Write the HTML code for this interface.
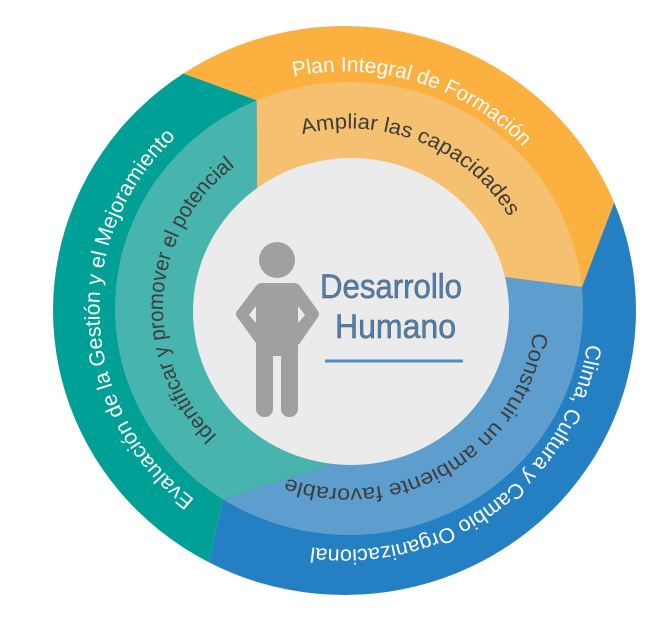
<!DOCTYPE html>
<html><head><meta charset="utf-8"><style>
html,body{margin:0;padding:0;background:#fff;width:653px;height:619px;overflow:hidden;}
svg{display:block;}
</style></head><body>
<svg width="653" height="619" viewBox="0 0 653 619" xmlns="http://www.w3.org/2000/svg">
<defs>
<clipPath id="co"><ellipse cx="344.5" cy="310.5" rx="291.5" ry="284.5"/></clipPath>
<clipPath id="ci"><ellipse cx="349" cy="308.5" rx="234" ry="226.5"/></clipPath>
</defs>
<g clip-path="url(#co)">
<polygon fill="#FBB040" points="256,100 102,44 102,-20 699,-20 582,287 351,311"/>
<polygon fill="#247FC3" points="582,287 699,-20 720,-20 720,700 178,700 223,499 351,311"/>
<polygon fill="#00A096" points="223,499 178,700 -20,700 -20,-20 102,-20 102,44 256,100 351,311"/>
</g>
<g clip-path="url(#ci)">
<polygon fill="#F5C070" points="257,188 256,-20 700,-20 700,302 505,277 351,311"/>
<polygon fill="#5E9ECE" points="505,277 700,302 700,700 -20,700 -20,576 330,465 351,311"/>
<polygon fill="#47B5AE" points="330,465 -20,576 -20,-20 256,-20 257,188 351,311"/>
</g>
<ellipse cx="351" cy="311.5" rx="158" ry="153.5" fill="#EBEBEB"/>

<g transform="translate(344.5,310.5) scale(1.025,1)" font-family="Liberation Sans, sans-serif" font-size="21" fill="#fff">
<path id="p1" d="M -49.7 -233.8 A 239 239 0 0 1 175.6 -162.1" fill="none"/>
<path id="p2" d="M -146.1 189.1 A 239 239 0 0 1 -162.4 -175.4" fill="none"/>
<path id="p3" d="M 236.6 33.7 A 239 239 0 0 1 -35.3 236.4" fill="none"/>
<text><textPath href="#p1" textLength="245" lengthAdjust="spacingAndGlyphs">Plan Integral de Formación</textPath></text>
<text><textPath href="#p2" textLength="412" lengthAdjust="spacingAndGlyphs">Evaluación de la Gestión y el Mejoramiento</textPath></text>
<text><textPath href="#p3" textLength="374" lengthAdjust="spacingAndGlyphs">Clima, Cultura y Cambio Organizacional</textPath></text>
</g>

<g transform="translate(349,308.5) scale(1.033,1)" font-family="Liberation Sans, sans-serif" font-size="21" fill="#3d3d3d">
<path id="q1" d="M -45.1 -174.3 A 180 180 0 0 1 156.5 -88.9" fill="none"/>
<path id="q2" d="M -127.3 127.3 A 180 180 0 0 1 -108.3 -143.7" fill="none"/>
<path id="q3" d="M 178.4 23.8 A 180 180 0 0 1 -63.3 168.5" fill="none"/>
<text><textPath href="#q1" textLength="232" lengthAdjust="spacingAndGlyphs">Ampliar  las capacidades</textPath></text>
<text><textPath href="#q2" textLength="305" lengthAdjust="spacingAndGlyphs">Identificar y promover el potencial</textPath></text>
<text><textPath href="#q3" textLength="320" lengthAdjust="spacingAndGlyphs">Construir un ambiente favorable</textPath></text>
</g>

<g fill="#9FA0A2">
<circle cx="277" cy="260" r="18"/>
<path d="M262,283 L294,283 Q298,283 300,286 L318,311 Q320,314 318,317 L300,343 L298,345 L258,345 L256,343 L237,317 Q235,314 237,311 L256,286 Q258,283 262,283 Z"/>
<rect x="256" y="340" width="42" height="16"/>
<rect x="256" y="350" width="17" height="67" rx="8"/>
<rect x="281" y="350" width="17" height="67" rx="8"/>
</g>
<polygon fill="#EBEBEB" points="256,306 249,315 256,323"/>
<polygon fill="#EBEBEB" points="298,306 305,315 298,323"/>

<g font-family="Liberation Sans, sans-serif" font-size="34" fill="#4A80B3" stroke="#5a5a5a" stroke-width="0.5">
<text x="320" y="298" textLength="142" lengthAdjust="spacingAndGlyphs">Desarrollo</text>
<text x="335" y="338" textLength="121" lengthAdjust="spacingAndGlyphs">Humano</text>
</g>
<rect x="325" y="359.5" width="138" height="3" fill="#4A90C8"/>
</svg>
</body></html>
